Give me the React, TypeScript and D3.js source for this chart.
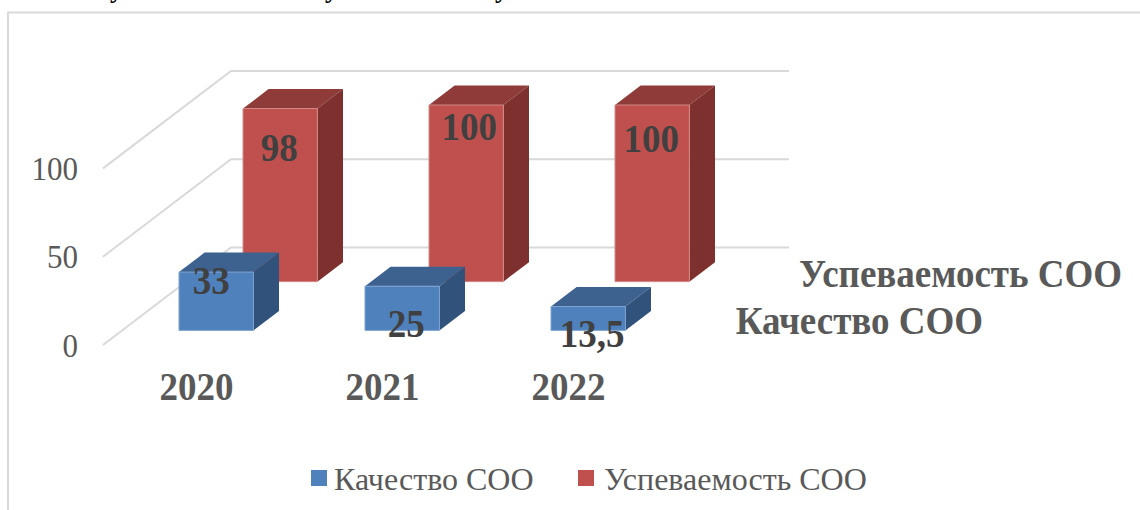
import * as d3 from "d3";

const years = ["2020", "2021", "2022"];
const seriesNames = ["Качество СОО", "Успеваемость СОО"];
const qualityValues = [33, 25, 13.5];
const progressValues = [98, 100, 100];
const qualityLabels = ["33", "25", "13,5"];
const progressLabels = ["98", "100", "100"];
const valueTicks = [0, 50, 100];

const font = "'Liberation Serif', 'Times New Roman', serif";

const palette = [
  { front: "#4f81bd", top: "#3d6290", side: "#31527b", edge: "#7ea3cf" },
  { front: "#c0504d", top: "#8f3b39", side: "#7d302e", edge: "#d28a88" },
];

// projection of the 3D box: category along x, value up, series going back
const floorLeft = 103;
const floorRight = 661;
const x = d3.scaleBand().domain(years).range([104, 662]).paddingInner(0.6).paddingOuter(0.3);
const y = d3.scaleLinear().domain([0, 100]).range([345, 168.4]);
const z = d3.scaleBand().domain(seriesNames).range([0, 1]).paddingInner(0.6).paddingOuter(0.3);
const depthX = 128;
const depthY = -97.5;

const project = (px: number, value: number, depth: number): [number, number] => [
  px + depth * depthX,
  y(value) + depth * depthY,
];
const poly = (pts: [number, number][]) => d3.line()(pts)! + "Z";

// the labels were dragged by hand in the original, offsets from the bar's top front centre
const labelNudge = [
  [
    [-5, 22],
    [4, 51],
    [4, 40],
  ],
  [
    [-1, 52],
    [3, 35],
    [-1, 47],
  ],
];

// the reference is slightly stretched vertically
const tall = (px: number, py: number) => `translate(${px},${py}) scale(1,1.07)`;

// tails of letters from the page text cut off above the chart
const clippedLetterX = [110, 325, 495];

export default function App() {
  const allValues = [qualityValues, progressValues];
  const allLabels = [qualityLabels, progressLabels];

  return (
    <svg
      width={1140}
      height={510}
      style={{ position: "absolute", left: 0, top: 0, background: "#fff" }}
      fontFamily={font}
    >
      {clippedLetterX.map((lx) => (
        <text key={lx} x={lx} y={-2} fontSize={26} fontWeight="bold" fill="#000">
          у
        </text>
      ))}

      {/* frame */}
      <path d="M8,510V12.5H1140" fill="none" stroke="#d9d9d9" strokeWidth={2} />

      {/* gridlines on floor side and back wall */}
      {valueTicks.map((t) => {
        const a = project(floorLeft, t, 0);
        const b = project(floorLeft, t, 1);
        const c = project(floorRight, t, 1);
        return (
          <path
            key={t}
            d={d3.line()([a, b, c])!}
            fill="none"
            stroke="#d9d9d9"
            strokeWidth={2}
          />
        );
      })}

      {/* value axis */}
      {valueTicks.map((t) => (
        <text
          key={t}
          transform={tall(78, y(t) + 11.5)}
          textAnchor="end"
          fontSize={31}
          fill="#595959"
        >
          {t}
        </text>
      ))}

      {/* bars, back series first */}
      {[1, 0].map((s) =>
        years.map((year, i) => {
          const v = allValues[s][i];
          const x0 = x(year)!;
          const x1 = x0 + x.bandwidth();
          const d0 = z(seriesNames[s])!;
          const d1 = d0 + z.bandwidth();
          const c = palette[s];
          return (
            <g key={seriesNames[s] + year}>
              <path
                d={poly([project(x0, v, d0), project(x1, v, d0), project(x1, v, d1), project(x0, v, d1)])}
                fill={c.top}
              />
              <path
                d={poly([project(x1, 0, d0), project(x1, v, d0), project(x1, v, d1), project(x1, 0, d1)])}
                fill={c.side}
              />
              <path
                d={poly([project(x0, 0, d0), project(x1, 0, d0), project(x1, v, d0), project(x0, v, d0)])}
                fill={c.front}
                stroke={c.edge}
                strokeWidth={1}
              />
            </g>
          );
        })
      )}

      {/* data labels */}
      {[1, 0].map((s) =>
        years.map((year, i) => {
          const [px, py] = project(x(year)! + x.bandwidth() / 2, allValues[s][i], z(seriesNames[s])!);
          return (
            <text
              key={seriesNames[s] + year}
              transform={tall(px + labelNudge[s][i][0], py + labelNudge[s][i][1])}
              textAnchor="middle"
              fontSize={37}
              fontWeight="bold"
              fill="#404040"
            >
              {allLabels[s][i]}
            </text>
          );
        })
      )}

      {/* category axis */}
      {years.map((year) => (
        <text
          key={year}
          transform={tall(x(year)! + x.bandwidth() / 2 - 0.5, 400)}
          textAnchor="middle"
          fontSize={37}
          fontWeight="bold"
          fill="#595959"
        >
          {year}
        </text>
      ))}

      {/* series axis */}
      <text transform={tall(1122, 287)} textAnchor="end" fontSize={37} fontWeight="bold" fill="#595959">
        {seriesNames[1]}
      </text>
      <text transform={tall(983, 334)} textAnchor="end" fontSize={37} fontWeight="bold" fill="#595959">
        {seriesNames[0]}
      </text>

      {/* legend */}
      <rect x={311} y={470} width={16} height={16} fill={palette[0].front} />
      <text x={334} y={490} fontSize={32} fill="#595959">
        {seriesNames[0]}
      </text>
      <rect x={578} y={470} width={16} height={16} fill={palette[1].front} />
      <text x={604} y={490} fontSize={32} fill="#595959">
        {seriesNames[1]}
      </text>
    </svg>
  );
}
